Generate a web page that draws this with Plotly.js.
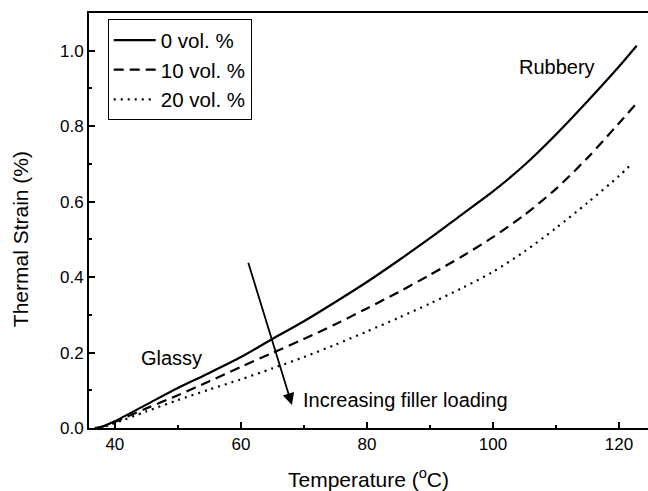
<!DOCTYPE html>
<html>
<head>
<meta charset="utf-8">
<script src="https://cdn.plot.ly/plotly-3.0.1.min.js"></script>
<style>html,body{margin:0;padding:0;background:#fff;}#chart{width:648px;height:491px;}</style>
</head>
<body>
<div id="chart"></div>
<script>
// Data
var tempSolid = [36.8, 38, 40, 45, 50, 55, 60, 65, 70, 75, 80, 85, 90, 95, 100, 105, 110, 115, 120, 122.8];
var strain0   = [0, 0.004, 0.018, 0.062, 0.106, 0.146, 0.188, 0.236, 0.283, 0.334, 0.387, 0.444, 0.503, 0.565, 0.627, 0.697, 0.778, 0.866, 0.958, 1.013];

var tempDash  = [37.3, 38.5, 40, 45, 50, 55, 60, 65, 70, 75, 80, 85, 90, 95, 100, 105, 110, 115, 120, 122.6];
var strain10  = [0, 0.006, 0.016, 0.052, 0.087, 0.124, 0.162, 0.199, 0.236, 0.275, 0.317, 0.360, 0.406, 0.454, 0.506, 0.565, 0.634, 0.716, 0.808, 0.857];

var tempDot   = [37.5, 39, 40, 45, 50, 55, 60, 65, 70, 75, 80, 85, 90, 95, 100, 105, 110, 115, 120, 122];
var strain20  = [0, 0.007, 0.013, 0.044, 0.074, 0.102, 0.129, 0.158, 0.188, 0.221, 0.256, 0.292, 0.330, 0.370, 0.414, 0.468, 0.530, 0.597, 0.668, 0.70];

var seriesNames = ['0 vol. %', '10 vol. %', '20 vol. %'];
var xTickVals = [40, 60, 80, 100, 120];
var yTickVals = [0.0, 0.2, 0.4, 0.6, 0.8, 1.0];

var FONT = 'Liberation Sans, Arial, Helvetica, sans-serif';

var traces = [
  {x: tempSolid, y: strain0, name: seriesNames[0], mode: 'lines', line: {color: '#000', width: 2.2, dash: 'solid', shape: 'spline', smoothing: 0.8}},
  {x: tempDash, y: strain10, name: seriesNames[1], mode: 'lines', line: {color: '#000', width: 2.2, dash: '10px,6px', shape: 'spline', smoothing: 0.8}},
  {x: tempDot, y: strain20, name: seriesNames[2], mode: 'lines', line: {color: '#000', width: 2.2, dash: '2px,5px', shape: 'spline', smoothing: 0.8}}
];

var layout = {
  width: 648, height: 491,
  margin: {l: 89, r: 0, t: 13, b: 63},
  paper_bgcolor: '#fff', plot_bgcolor: '#fff',
  font: {family: FONT, color: '#000', size: 16},
  showlegend: true,
  legend: {
    x: 0.0335, y: 0.985, xanchor: 'left', yanchor: 'top',
    bordercolor: '#000', borderwidth: 1, bgcolor: '#fff',
    font: {family: FONT, size: 20.5, color: '#000'},
    itemwidth: 42, tracegroupgap: 0
  },
  xaxis: {
    range: [35.9, 124.6], tickvals: xTickVals, ticktext: xTickVals.map(String),
    ticks: 'inside', ticklen: 6, tickwidth: 2, tickcolor: '#000',
    minor: {ticks: 'inside', ticklen: 3, tickwidth: 2, tickcolor: '#000', dtick: 10, tick0: 0, showgrid: false},
    showline: true, linewidth: 2, linecolor: '#000', mirror: true,
    showgrid: false, zeroline: false,
    tickfont: {family: FONT, size: 17, color: '#000'},
    title: {text: 'Temperature (<sup>o</sup>C)', font: {family: FONT, size: 21, color: '#000'}, standoff: 20}
  },
  yaxis: {
    range: [0, 1.1], tickvals: yTickVals, ticktext: yTickVals.map(function(v){return v.toFixed(1);}),
    ticks: 'inside', ticklen: 6, tickwidth: 2, tickcolor: '#000',
    minor: {ticks: 'inside', ticklen: 3, tickwidth: 2, tickcolor: '#000', dtick: 0.1, tick0: 0, showgrid: false},
    showline: true, linewidth: 2, linecolor: '#000', mirror: false,
    showgrid: false, zeroline: false,
    tickfont: {family: FONT, size: 17, color: '#000'}
  },
  annotations: [
    {x: -0.1234, y: 0.455, xref: 'paper', yref: 'paper', text: 'Thermal Strain (%)', textangle: -90, showarrow: false,
     xanchor: 'center', yanchor: 'middle', font: {family: FONT, size: 21, color: '#000'}},
    {x: 49, y: 0.185, xref: 'x', yref: 'y', text: 'Glassy', showarrow: false, font: {family: FONT, size: 20, color: '#000'}},
    {x: 110.1, y: 0.956, xref: 'x', yref: 'y', text: 'Rubbery', showarrow: false, font: {family: FONT, size: 20, color: '#000'}},
    {x: 69.6, y: 0.074, xref: 'x', yref: 'y', text: 'Increasing filler loading', xanchor: 'left', showarrow: false, font: {family: FONT, size: 20, color: '#000'}},
    {x: 68.1, y: 0.061, xref: 'x', yref: 'y', ax: 61.1, ay: 0.442, axref: 'x', ayref: 'y', text: '', showarrow: true,
     arrowhead: 2, arrowsize: 1.3, arrowwidth: 1.8, arrowcolor: '#000', standoff: 0, startstandoff: 0}
  ]
};

Plotly.newPlot('chart', traces, layout, {staticPlot: true, displayModeBar: false});
</script>
</body>
</html>
